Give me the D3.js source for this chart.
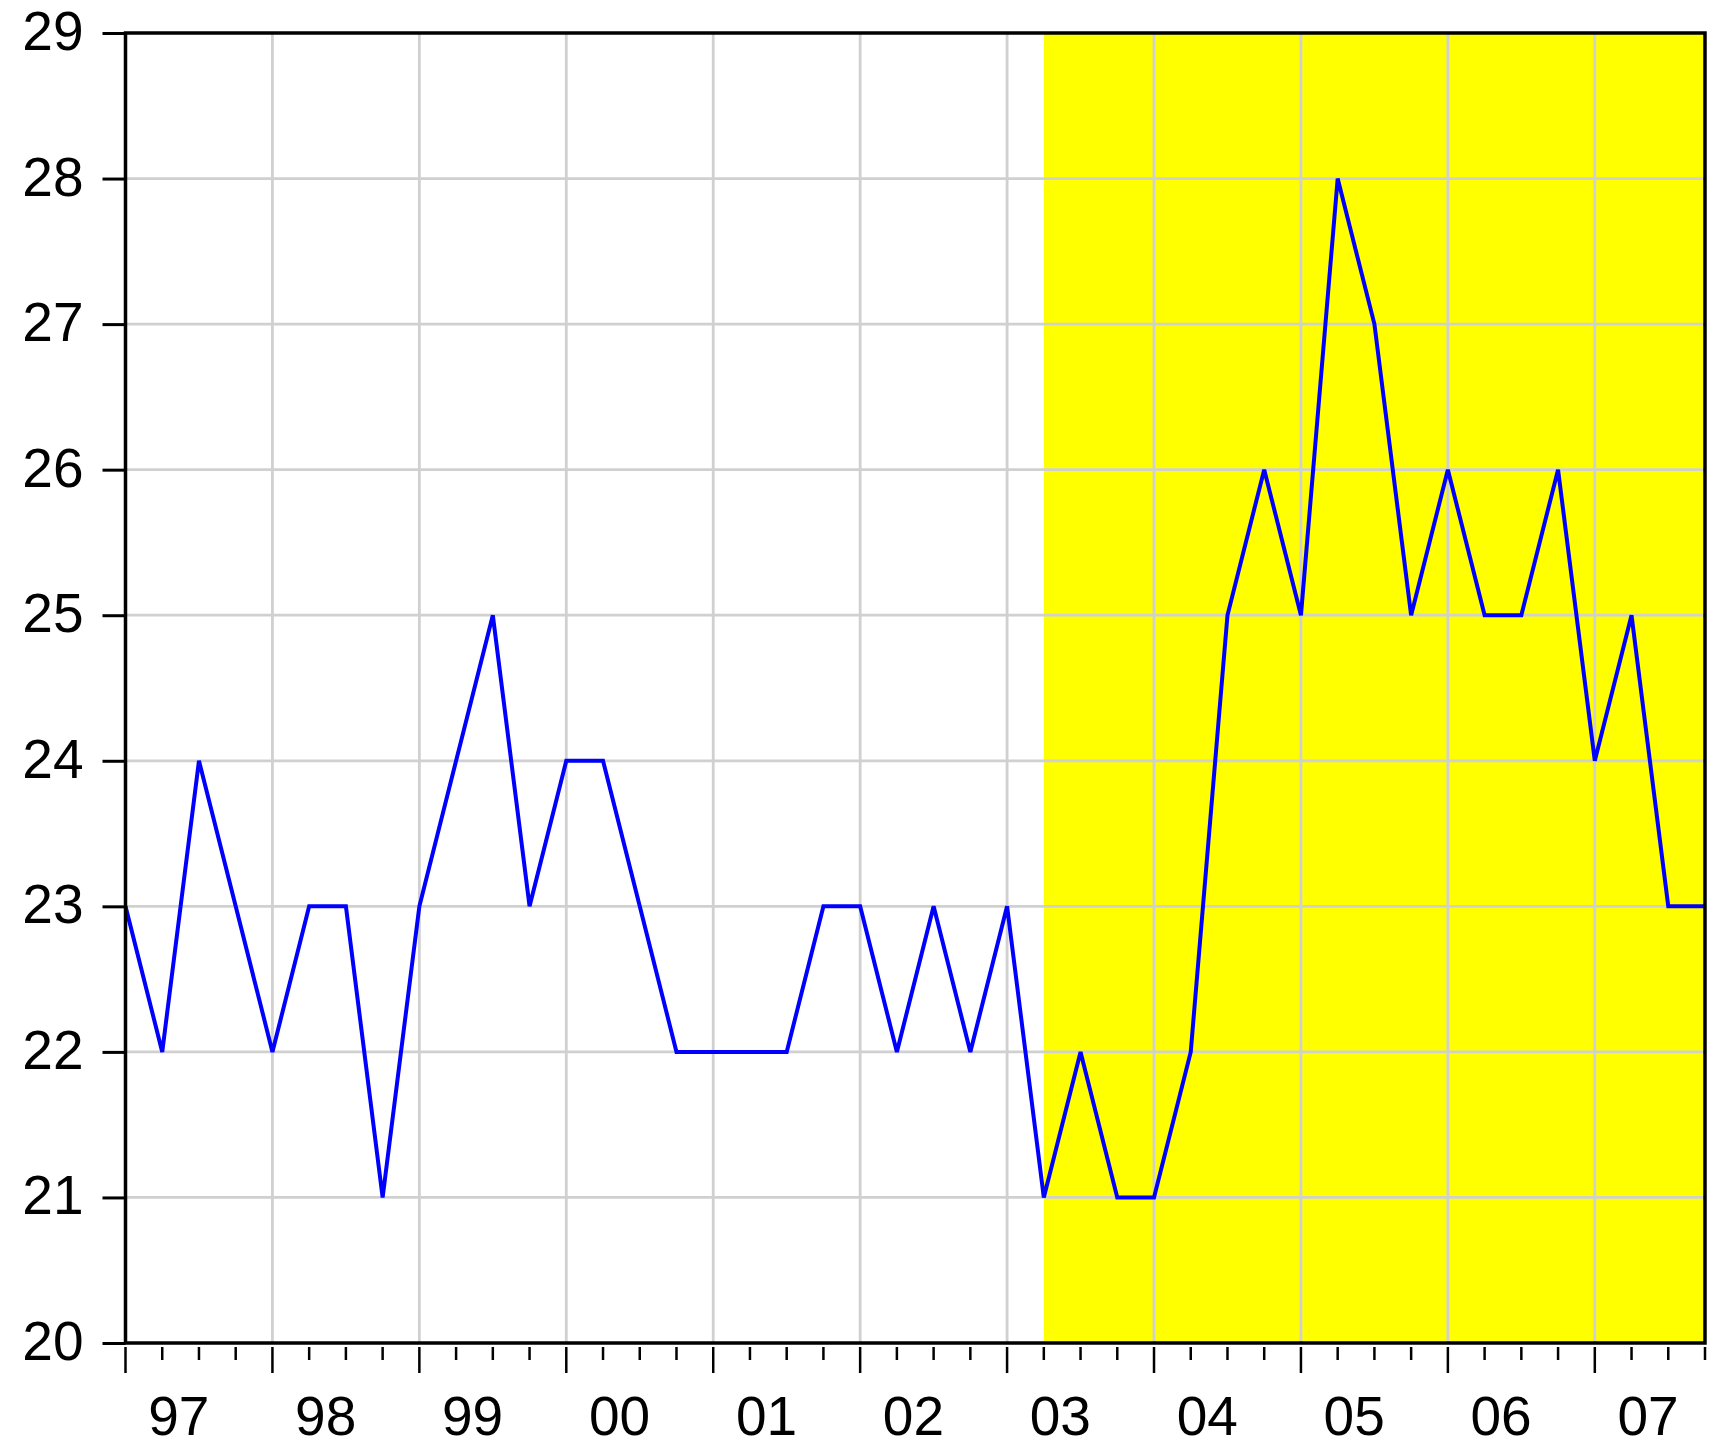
<!DOCTYPE html>
<html lang="en">
<head>
    <meta charset="UTF-8">
    <title>Quarterly series 1997-2007</title>
    <script src="https://d3js.org/d3.v7.min.js"></script>
    <style>
        body { margin: 0; background: #fff; }
        svg { display: block; }
        text { font-family: "Liberation Sans", Arial, sans-serif; fill: #000; }
    </style>
</head>
<body>
  <svg id="chart" width="1722" height="1453"></svg>

  <script>
    // datos: trimestral 1997Q1 - 2007Q4
    const years = ["97", "98", "99", "00", "01", "02", "03", "04", "05", "06", "07"];
    const quarters = years.flatMap(y => ["Q1", "Q2", "Q3", "Q4"].map(q => y + q));
    const values = [
        23, 22, 24, 23,
        22, 23, 23, 21,
        23, 24, 25, 23,
        24, 24, 23, 22,
        22, 22, 22, 23,
        23, 22, 23, 22,
        23, 21, 22, 21,
        21, 22, 25, 26,
        25, 28, 27, 25,
        26, 25, 25, 26,
        24, 25, 23, 23
    ];
    const yTicks = [20, 21, 22, 23, 24, 25, 26, 27, 28, 29];
    const shadeFrom = "03Q2"; // zona amarilla hasta el final

    const svg = d3.select("#chart");
    const pLeft = 125.5, pRight = 1705, pTop = 33, pBottom = 1343;

    const x = d3.scaleLinear().domain([0, quarters.length - 1]).range([pLeft, pRight]);
    const y = d3.scaleLinear().domain([20, 29]).range([pBottom, pTop]);

    // sombreado
    const s = quarters.indexOf(shadeFrom);
    svg.append("rect")
        .attr("x", x(s)).attr("y", pTop)
        .attr("width", x(quarters.length - 1) - x(s))
        .attr("height", pBottom - pTop)
        .attr("fill", "#ffff00");

    // rejilla
    const grid = svg.append("g").attr("stroke", "#d0d0d0").attr("stroke-width", 2.8);
    grid.selectAll("line.h").data(yTicks.slice(1, -1)).join("line")
        .attr("class", "h")
        .attr("x1", pLeft).attr("x2", pRight)
        .attr("y1", d => y(d)).attr("y2", d => y(d));
    const yearStarts = d3.range(4, quarters.length, 4);
    grid.selectAll("line.v").data(yearStarts).join("line")
        .attr("class", "v")
        .attr("x1", d => x(d)).attr("x2", d => x(d))
        .attr("y1", pTop).attr("y2", pBottom);

    // eje y
    const yAxis = svg.append("g")
        .attr("transform", `translate(${pLeft},0)`)
        .call(d3.axisLeft(y).tickValues(yTicks).tickSize(23).tickPadding(19).tickSizeOuter(0));
    yAxis.select(".domain").remove();
    yAxis.selectAll(".tick line").attr("stroke", "#000").attr("stroke-width", 3);
    yAxis.selectAll(".tick text")
        .attr("font-size", 55).attr("dy", "0.3em")
        .attr("font-family", "Liberation Sans, Arial, sans-serif");

    // eje x: marcas trimestrales
    const xAxis = svg.append("g").attr("stroke", "#000").attr("stroke-width", 2.5);
    xAxis.selectAll("line").data(quarters).join("line")
        .attr("x1", (d, i) => x(i)).attr("x2", (d, i) => x(i))
        .attr("y1", pBottom + 4)
        .attr("y2", (d, i) => i % 4 === 0 ? pBottom + 30 : pBottom + 17);

    svg.append("g").selectAll("text").data(years).join("text")
        .attr("x", (d, i) => x(i * 4 + 1.45))
        .attr("y", 1435)
        .attr("text-anchor", "middle")
        .attr("font-size", 55)
        .text(d => d);

    // serie
    const line = d3.line().x((d, i) => x(i)).y(d => y(d));
    svg.append("path")
        .datum(values)
        .attr("d", line)
        .attr("fill", "none")
        .attr("stroke", "#0000ff")
        .attr("stroke-width", 4)
        .attr("stroke-linejoin", "miter");

    // marco
    svg.append("rect")
        .attr("x", pLeft).attr("y", pTop)
        .attr("width", pRight - pLeft).attr("height", pBottom - pTop)
        .attr("fill", "none").attr("stroke", "#000").attr("stroke-width", 3.5);
  </script>
</body>
</html>
